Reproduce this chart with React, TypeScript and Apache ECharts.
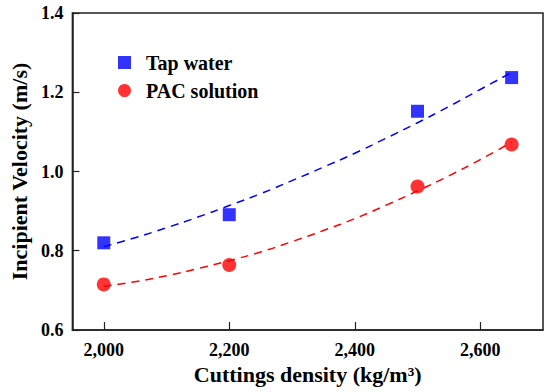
import React, { useEffect, useRef } from "react";
import * as echarts from "echarts";

const densities = [2000, 2200, 2500, 2650];
const tapWater = [0.82, 0.891, 1.152, 1.237];
const pacSolution = [0.715, 0.764, 0.962, 1.068];

// dashed trend curves
const curveX = [2000, 2050, 2100, 2150, 2200, 2250, 2300, 2350, 2400, 2450, 2500, 2550, 2600, 2650];
const tapCurve = [0.81, 0.833, 0.858, 0.885, 0.914, 0.944, 0.977, 1.011, 1.046, 1.084, 1.123, 1.164, 1.207, 1.25];
const pacCurve = [0.71, 0.722, 0.737, 0.755, 0.775, 0.797, 0.823, 0.851, 0.881, 0.915, 0.951, 0.989, 1.03, 1.074];

const xTicks = [2000, 2200, 2400, 2600];

const FONT = "'Liberation Serif', 'Times New Roman', serif";

export default function App() {
  const ref = useRef<HTMLDivElement>(null);
  useEffect(() => {
    if (!ref.current) return;
    const chart = echarts.init(ref.current, undefined, { renderer: "svg" });
    chart.setOption({
      animation: false,
      backgroundColor: "#ffffff",
      grid: {
        left: 66,
        top: 13,
        right: 7,
        bottom: 62,
        show: true,
        borderColor: "#222",
        borderWidth: 1.5,
        containLabel: false,
      },
      legend: {
        orient: "vertical",
        left: 113,
        top: 47,
        itemWidth: 13,
        itemHeight: 13,
        itemGap: 7,
        data: [
          { name: "Tap water", icon: "rect" },
          { name: "PAC solution", icon: "circle" },
        ],
        textStyle: {
          fontFamily: FONT,
          fontWeight: "bold",
          fontSize: 20,
          color: "#000",
          padding: [0, 0, 0, 10],
          lineHeight: 21,
        },
      },
      xAxis: {
        type: "value",
        min: 1950,
        max: 2700,
        name: "Cuttings density (kg/m³)",
        nameLocation: "middle",
        nameGap: 33,
        nameTextStyle: { fontFamily: FONT, fontWeight: "bold", fontSize: 22, color: "#000" },
        axisLine: { lineStyle: { color: "#222", width: 1.5 } },
        axisTick: { inside: true, length: 8, customValues: xTicks, lineStyle: { color: "#222", width: 1.2 } },
        axisLabel: {
          customValues: xTicks,
          margin: 11,
          fontFamily: FONT,
          fontWeight: "bold",
          fontSize: 18,
          color: "#000",
        },
        splitLine: { show: false },
      },
      yAxis: {
        type: "value",
        min: 0.6,
        max: 1.4,
        interval: 0.2,
        name: "Incipient Velocity (m/s)",
        nameLocation: "middle",
        nameGap: 40,
        nameTextStyle: { fontFamily: FONT, fontWeight: "bold", fontSize: 22, color: "#000" },
        axisLine: { lineStyle: { color: "#222", width: 1.5 } },
        axisTick: { inside: true, length: 7, lineStyle: { color: "#222", width: 1.2 } },
        axisLabel: {
          margin: 9,
          fontFamily: FONT,
          fontWeight: "bold",
          fontSize: 18,
          color: "#000",
          formatter: (v: number) => v.toFixed(1),
        },
        splitLine: { show: false },
      },
      series: [
        {
          name: "Tap water fit",
          type: "line",
          data: curveX.map((x, i) => [x, tapCurve[i]]),
          smooth: true,
          showSymbol: false,
          symbol: "none",
          lineStyle: { color: "#0000ff", width: 1.5, type: [8, 6] },
          z: 1,
        },
        {
          name: "PAC solution fit",
          type: "line",
          data: curveX.map((x, i) => [x, pacCurve[i]]),
          smooth: true,
          showSymbol: false,
          symbol: "none",
          lineStyle: { color: "#ff0000", width: 1.5, type: [8, 6] },
          z: 1,
        },
        {
          name: "Tap water",
          type: "scatter",
          symbol: "rect",
          symbolSize: 13,
          itemStyle: { color: "#0000ff" },
          data: densities.map((x, i) => [x, tapWater[i]]),
          z: 3,
        },
        {
          name: "PAC solution",
          type: "scatter",
          symbol: "circle",
          symbolSize: 14,
          itemStyle: { color: "#ff0000" },
          data: densities.map((x, i) => [x, pacSolution[i]]),
          z: 3,
        },
      ],
    });
    return () => chart.dispose();
  }, []);
  return <div ref={ref} style={{ width: 550, height: 392, position: "absolute", left: 0, top: 0 }} />;
}
